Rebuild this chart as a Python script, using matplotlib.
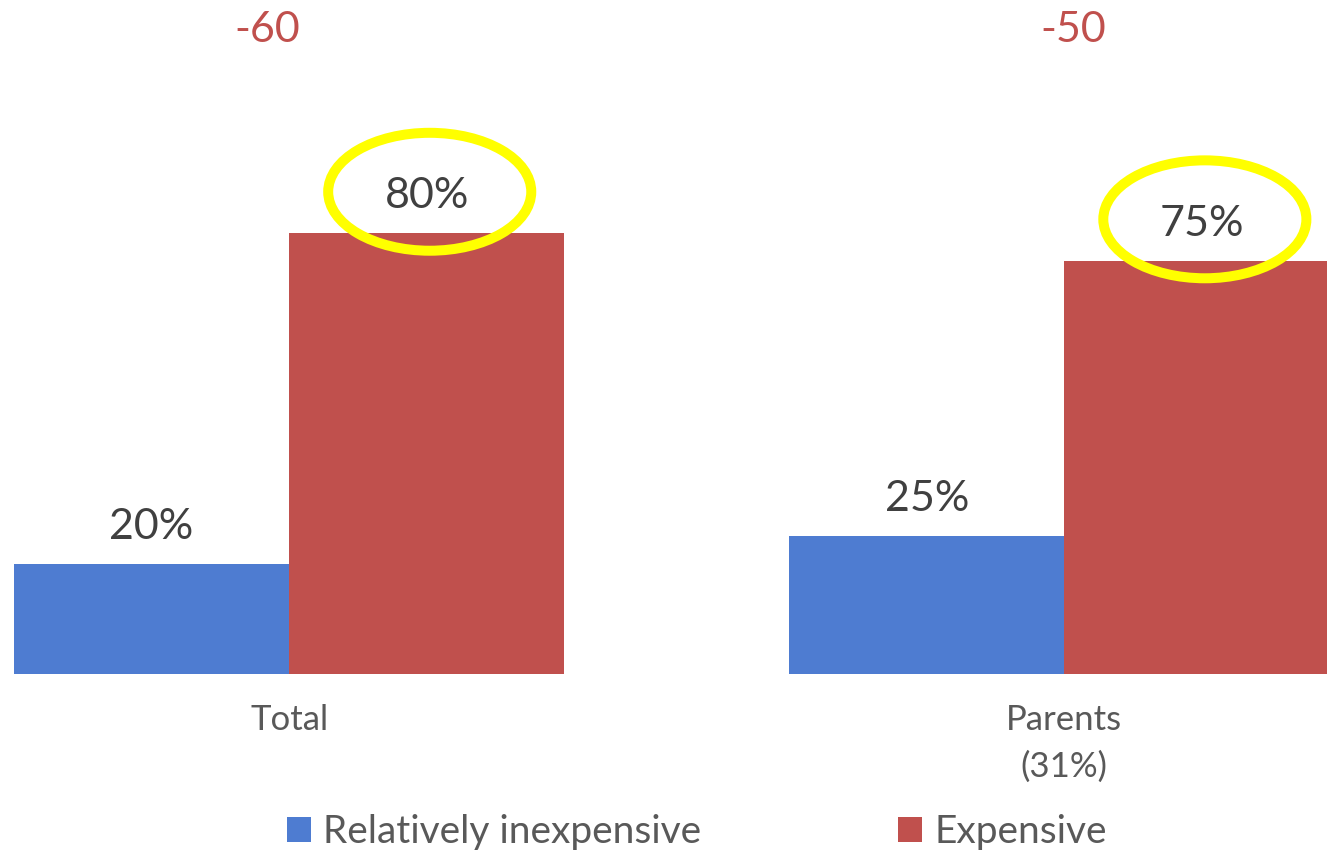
import matplotlib
matplotlib.use("Agg")
import matplotlib.pyplot as plt
from matplotlib.patches import Ellipse, Patch
import numpy as np

plt.rcParams['font.family'] = ['Lato', 'DejaVu Sans']

categories = ["Total", "Parents\n(31%)"]
series_names = ["Relatively inexpensive", "Expensive"]
inexpensive = [20, 25]
expensive = [80, 75]
highlighted = [True, True]  # expensive values circled

blue = "#4E7CD1"
red = "#C0504D"
yellow = "#FFFF00"

fig = plt.figure(figsize=(13.27, 8.52), dpi=100)
ax = fig.add_axes([0, 0.209, 1, 0.791])

x = np.arange(len(categories))
w = 0.3548
ax.bar(x - w / 2, inexpensive, width=w, color=blue, edgecolor="none")
ax.bar(x + w / 2, expensive, width=w, color=red, edgecolor="none")

ax.set_xlim(-0.373, 1.339)
ax.set_ylim(0, 122.3)

for xi, v in zip(x - w / 2, inexpensive):
    ax.annotate(f"{v}%", (xi, v), xytext=(0, 18), textcoords="offset points",
                ha="center", va="baseline", fontsize=31, color="#404040")
for xi, v, h in zip(x + w / 2, expensive, highlighted):
    ax.annotate(f"{v}%", (xi, v), xytext=(0, 18), textcoords="offset points",
                ha="center", va="baseline", fontsize=31, color="#404040")
    if h:
        ax.add_patch(Ellipse((xi + 0.004, v + 7.5), width=0.262, height=21.4,
                             fill=False, edgecolor=yellow, linewidth=7.2, zorder=5))

diffs = [a - b for a, b in zip(inexpensive, expensive)]
diff_dx = [-0.028, 0.012]
for xi, d, dx in zip(x, diffs, diff_dx):
    ax.text(xi + dx, 114.7, f"{d}", ha="center", va="baseline", fontsize=31, color=red)

ax.set_xticks(x)
ax.set_xticklabels(categories, fontsize=25, color="#595959", linespacing=1.55)
ax.tick_params(axis="x", length=0, pad=22)
ax.set_yticks([])
for s in ax.spines.values():
    s.set_visible(False)

handles = [Patch(facecolor=blue, edgecolor="none"), Patch(facecolor=red, edgecolor="none")]
leg = fig.legend(handles, series_names, loc="center", bbox_to_anchor=(0.525, 0.0235),
                 ncol=2, frameon=False, fontsize=28, handlelength=0.62, handleheight=0.62,
                 handletextpad=0.31, columnspacing=5.06, labelcolor="#595959")

fig.savefig("out.png", dpi=100)
